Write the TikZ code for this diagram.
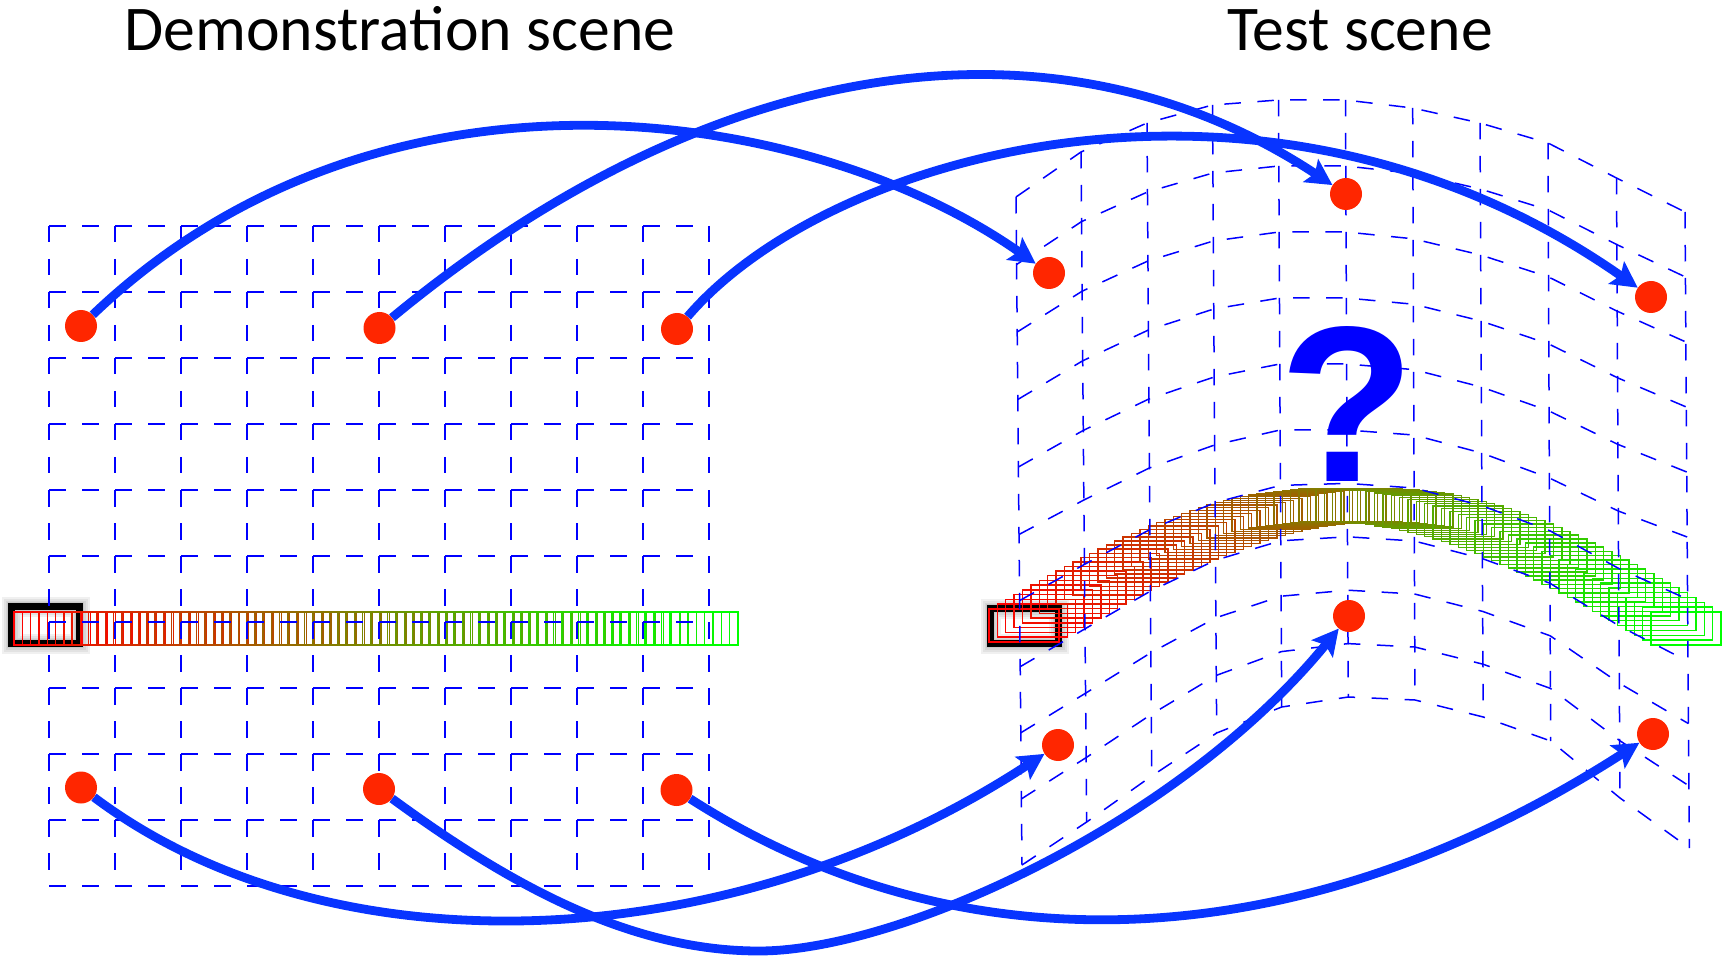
\documentclass[tikz,border=0pt]{standalone}
\usepackage{fontspec}
\setmainfont{Carlito}
\newfontfamily\qmarkfont{Liberation Sans}
\usetikzlibrary{arrows.meta}

\definecolor{gridblue}{RGB}{0,0,255}
\definecolor{linkblue}{RGB}{8,52,255}
\definecolor{dotred}{RGB}{255,38,0}

\pgfdeclarelayer{back}
\pgfdeclarelayer{links}
\pgfsetlayers{back,links,main}

\tikzset{
  gridline/.style={draw=gridblue, line width=1.5pt, dash pattern=on 16.5pt off 16.5pt},
  link/.style={draw=linkblue, line width=8.8pt, -{Stealth[length=26pt,width=27pt,inset=5pt]}},
  keypt/.style={circle, fill=dotred, inner sep=0pt, minimum size=32pt},
  ropeseg/.style={line width=1.4pt},
  gripper/.style={draw=black, line width=7pt},
  gripperhalo/.style={draw=black, line width=#1, opacity=0.06},
  scenetitle/.style={anchor=base, inner sep=0pt, font=\fontsize{63.7}{70}\selectfont},
}

% warped grid of the test scene: column x at top/bottom, row y at top, middle and bottom
\def\Xtop{{1016,1081,1147,1212.5,1278.5,1345.5,1412.7,1480,1548,1616.5,1685}}
\def\Xbot{{1022,1086.7,1151.7,1216.7,1281.7,1348.3,1415,1483.3,1550.7,1620,1689.3}}
\def\Ytop{{197,152,123,105,100,100,108,123,143,178,212}}
\def\Ymid{{534.5,500,468,445,430,430,435,453,478,511,537}}
\def\Ybot{{865,822,776,733,707,697,700,717,741,798,848}}

\begin{document}
\begin{tikzpicture}[x=1pt,y=-1pt]
\useasboundingbox (0,0) rectangle (1725,957);

% grid points of the test scene
\foreach \u in {0,...,10}{
  \foreach \v in {0,...,10}{
    \pgfmathsetmacro\gx{\Xtop[\u]+(\Xbot[\u]-\Xtop[\u])*\v/10}
    \pgfmathsetmacro\gy{\v<=5 ? \Ytop[\u]+(\Ymid[\u]-\Ytop[\u])*\v/5 : \Ymid[\u]+(\Ybot[\u]-\Ymid[\u])*(\v-5)/5}
    \coordinate (r-\u-\v) at (\gx,\gy);
  }
}

\begin{pgfonlayer}{back}
  % grippers with a soft shadow
  \foreach \w in {20pt,16pt,12pt,9pt}{
    \draw[gripperhalo=\w] (11.5,606.5) rectangle (79.5,643.5);
    \draw[gripperhalo=\w] (990.5,608.5) rectangle (1058.5,643.5);
  }
  \draw[gripper] (11.5,606.5) rectangle (79.5,643.5);
  \draw[gripper] (990.5,608.5) rectangle (1058.5,643.5);

  % rope in the demonstration scene
  \foreach \k in {0,...,79}{
    \pgfmathsetmacro\s{100*\k/79}
    \draw[ropeseg, draw=green!\s!red] (14+8.3038*\k,612) rectangle ++(68,33);
  }
  % rope in the test scene
  \foreach \k in {0,...,79}{
    \pgfmathsetmacro\s{100*\k/79}
    \pgfmathsetmacro\rx{989+8.37975*\k}
    \pgfmathsetmacro\ry{609+0.038*\k-122*sin(2.27848*\k)}
    \draw[ropeseg, draw=green!\s!red] (\rx,\ry) rectangle ++(70,33);
  }

  % regular grid of the demonstration scene
  \foreach \i in {0,...,10}{
    \draw[gridline] (49+66*\i,226) -- (49+66*\i,886);
    \draw[gridline] (49,226+66*\i) -- (709,226+66*\i);
  }
  % warped grid of the test scene
  \foreach \u in {0,...,10}{
    \draw[gridline] (r-\u-0) \foreach \v in {1,...,10}{ -- (r-\u-\v) };
  }
  \foreach \v in {0,...,10}{
    \draw[gridline] (r-0-\v) \foreach \u in {1,...,10}{ -- (r-\u-\v) };
  }
\end{pgfonlayer}

% key points
\node[keypt] (d1) at (81,326) {};
\node[keypt] (d2) at (379.5,328) {};
\node[keypt] (d3) at (677,329) {};
\node[keypt] (d4) at (81,787.5) {};
\node[keypt] (d5) at (379,789) {};
\node[keypt] (d6) at (676.5,790) {};
\node[keypt] (e1) at (1049,273) {};
\node[keypt] (e2) at (1346,194) {};
\node[keypt] (e3) at (1651,297) {};
\node[keypt] (e4) at (1058,745) {};
\node[keypt] (e5) at (1349,616) {};
\node[keypt] (e6) at (1653,734) {};
\coordinate (low5) at (759,951);

\begin{pgfonlayer}{links}
  \draw[link] (d1) .. controls (380,40) and (810,105) .. (e1);
  \draw[link] (d2) .. controls (716,50) and (1060,5) .. (e2);
  \draw[link] (d3) .. controls (830,150) and (1270,30) .. (e3);
  \draw[link] (d4) .. controls (329,974) and (730,960) .. (e4);
  \draw[link] (d5) .. controls (510,885) and (630,951) .. (low5)
                   .. controls (900,951) and (1180,823) .. (e5);
  \draw[link] (d6) .. controls (954,968) and (1292,966) .. (e6);
\end{pgfonlayer}

\node[font=\qmarkfont\bfseries\fontsize{222}{222}\selectfont, text=gridblue,
      anchor=base, inner sep=0pt] (qm) at (1347,482) {?};

\node[scenetitle] (t1) at (400,51) {Demonstration scene};
\node[scenetitle] (t2) at (1360,51) {Test scene};
\end{tikzpicture}
\end{document}
